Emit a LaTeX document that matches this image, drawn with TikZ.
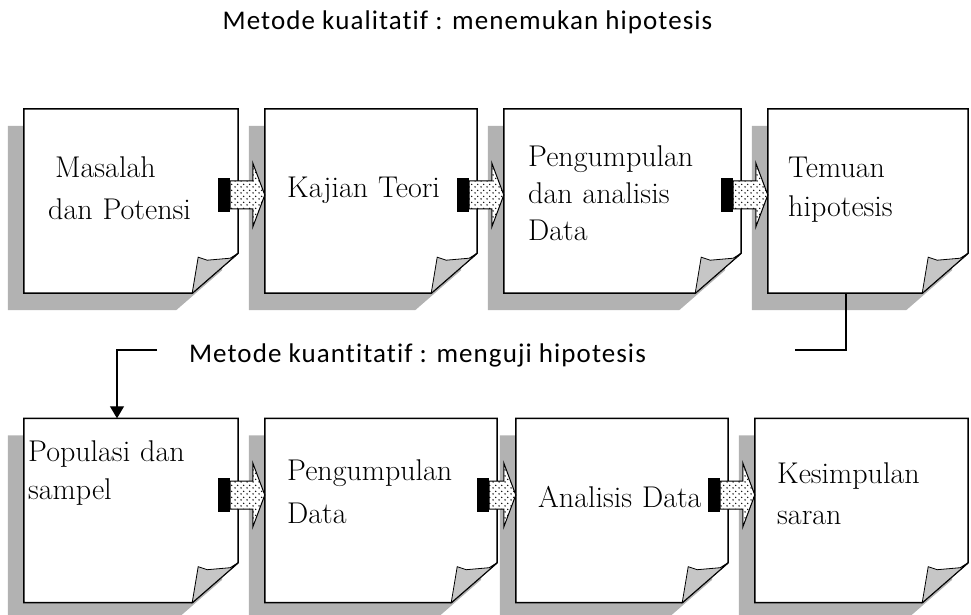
\documentclass[tikz,border=0pt]{standalone}
\usepackage{fontspec}
\newfontfamily\judul{Carlito}[LetterSpace=4, Ligatures=NoCommon]
\usetikzlibrary{calc,arrows.meta,patterns}
\pgfdeclarepatternformonly{bintik}{\pgfqpoint{0pt}{0pt}}{\pgfqpoint{6pt}{6pt}}{\pgfqpoint{6pt}{6pt}}{%
  \pgfpathcircle{\pgfqpoint{1.2pt}{1.2pt}}{0.9pt}%
  \pgfpathcircle{\pgfqpoint{4.2pt}{4.2pt}}{0.9pt}%
  \pgfusepath{fill}}
\tikzset{
  kotak/.style={minimum width=#1, minimum height=184pt, inner sep=0pt},
  bayang/.style={fill=gray!60},
  kertas/.style={draw, fill=white, line width=1.5pt},
  lipatan/.style={draw, fill=gray!45, line width=0.8pt},
  isi/.style={font=\fontsize{30}{#1}\selectfont, anchor=base west, text width=240pt, align=left, inner sep=0pt},
  isi/.default=40,
  isian/.style={draw, line width=1pt, fill=white, postaction={pattern=bintik}},
  judulteks/.style={font=\judul\fontsize{27}{32}\selectfont},
}
\newcommand{\lembar}[1]{%
  \fill[bayang] ([shift={(-16,-17)}]#1.north west) -- ([shift={(-16,-17)}]#1.north east)
    -- ([shift={(-16,23)}]#1.south east) -- ([shift={(-62,-17)}]#1.south east)
    -- ([shift={(-16,-17)}]#1.south west) -- cycle;
  \draw[kertas] (#1.north west) -- (#1.north east) -- ([yshift=40pt]#1.south east)
    -- ([xshift=-46pt]#1.south east) -- (#1.south west) -- cycle;
  \draw[lipatan] ([xshift=-46pt]#1.south east) -- ([shift={(-40,36)}]#1.south east)
    -- ([shift={(-31,33)}]#1.south east) -- ([shift={(-8,35)}]#1.south east)
    -- ([yshift=40pt]#1.south east) -- cycle;
}
\newcommand{\panah}[3]{%
  \fill ($(#1.east|-#3)+(-20,-17)$) rectangle ($(#1.east|-#3)+(-8,17)$);
  \draw[isian] ($(#1.east|-#3)+(-8,-14)$) -- ($(#2.west|-#3)+(-12,-14)$)
    -- ($(#2.west|-#3)+(-12,-32)$) -- (#2.west|-#3) -- ($(#2.west|-#3)+(-12,32)$)
    -- ($(#2.west|-#3)+(-12,14)$) -- ($(#1.east|-#3)+(-8,14)$) -- cycle;
}
\begin{document}
\begin{tikzpicture}[x=1pt, y=1pt]
  \useasboundingbox (0,0) rectangle (971,614);
  \node[kotak=214pt] (t1) at (131,413) {};
  \node[kotak=212pt] (t2) at (371,413) {};
  \node[kotak=237pt] (t3) at (622.5,413) {};
  \node[kotak=200pt] (t4) at (868,413) {};
  \node[kotak=214pt] (b1) at (131,103.5) {};
  \node[kotak=232pt] (b2) at (381,103.5) {};
  \node[kotak=212pt] (b3) at (622,103.5) {};
  \node[kotak=213pt] (b4) at (861.5,103.5) {};
  \foreach \k in {t1,t2,t3,t4,b1,b2,b3,b4} {\lembar{\k}}

  \node[isi=42] (n1) at (48,436) {\hspace*{7pt}Masalah\\dan Potensi};
  \node[isi] (n2) at (287,416) {Kajian Teori};
  \node[isi=37] (n3) at (528,447) {Pengumpulan\\dan analisis\\Data};
  \node[isi=39] (n4) at (788,436) {Temuan\\hipotesis};
  \node[isi=38] (n5) at (28,153) {Populasi dan\\sampel};
  \node[isi=43] (n6) at (287,134) {Pengumpulan\\Data};
  \node[isi] (n7) at (538,107) {Analisis Data};
  \node[isi=41] (n8) at (777,131) {Kesimpulan\\saran};

  \coordinate (r1) at (0,419);
  \coordinate (r2) at (0,119);
  \panah{t1}{t2}{r1}
  \panah{t2}{t3}{r1}
  \panah{t3}{t4}{r1}
  \panah{b1}{b2}{r2}
  \panah{b2}{b3}{r2}
  \panah{b3}{b4}{r2}

  \node[judulteks] (h1) at (467.5,592) {Metode kualitatif : menemukan hipotesis};
  \node[judulteks] (h2) at (417.5,259) {Metode kuantitatif : menguji hipotesis};
  \coordinate (kanan) at (795,264);
  \coordinate (kiri) at (157,264);
  \draw[line width=1.2pt] ([xshift=-22pt]t4.south) |- (kanan);
  \draw[line width=1.2pt, -{Triangle[width=14pt,length=12pt]}] (kiri) -| ([xshift=-14pt]b1.north);
\end{tikzpicture}
\end{document}
